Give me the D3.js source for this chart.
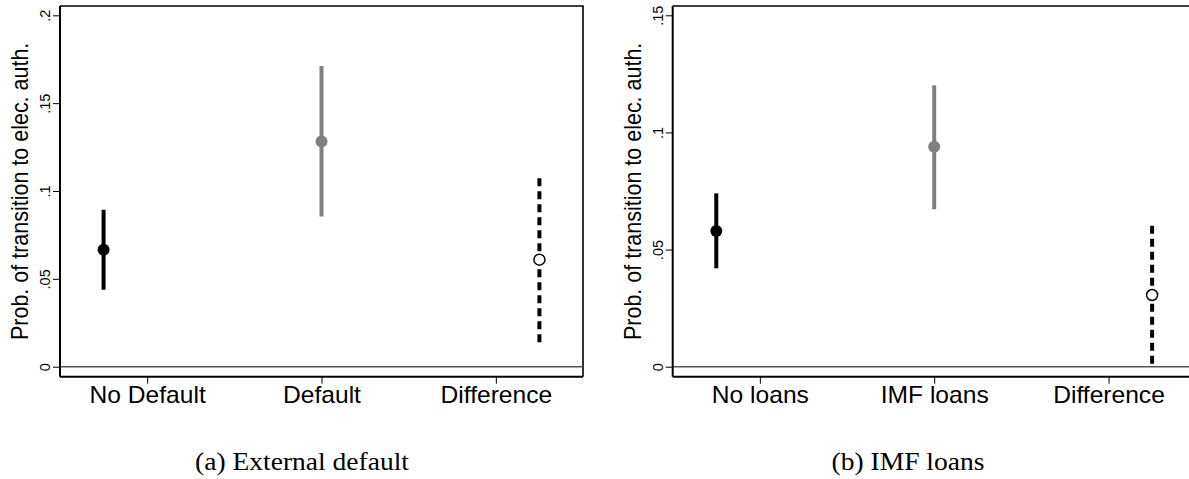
<!DOCTYPE html>
<html>
<head>
<meta charset="utf-8">
<script src="https://cdn.jsdelivr.net/npm/d3@7"></script>
<style>
  html, body { margin: 0; padding: 0; background: #fff; }
  svg { display: block; }
  .sans { font-family: "Liberation Sans", Arial, Helvetica, sans-serif; }
  .serif { font-family: "Liberation Serif", "Times New Roman", serif; }
</style>
</head>
<body>
<svg id="chart" width="1189" height="479"></svg>
<script>
// ---- Panel (a): external default ----
const categoriesA = ["No Default", "Default", "Difference"];
const estimateA   = [0.0666, 0.1282, 0.0609];
const lowerA      = [0.0438, 0.0855, 0.0121];
const upperA      = [0.0893, 0.1712, 0.1073];
const tickValuesA = [0, 0.05, 0.1, 0.15, 0.2];
const tickLabelsA = ["0", ".05", ".1", ".15", ".2"];

// ---- Panel (b): IMF loans ----
const categoriesB = ["No loans", "IMF loans", "Difference"];
const estimateB   = [0.0579, 0.0939, 0.0306];
const lowerB      = [0.0420, 0.0672, 0.0005];
const upperB      = [0.0740, 0.1201, 0.0602];
const tickValuesB = [0, 0.05, 0.1, 0.15];
const tickLabelsB = ["0", ".05", ".1", ".15"];

// category tick positions and the (shifted) positions where estimates sit
const tickPositions = [1, 2, 3];
const markPositions = [0.75, 2, 3.25];

const yTitle = "Prob. of transition to elec. auth.";

// mark styling per category: base group, treated group, difference
const styles = [
  { color: "#000",    dash: null,  fill: "#000",    r: 6 },
  { color: "#808080", dash: null,  fill: "#808080", r: 6 },
  { color: "#000",    dash: "8,5", fill: "#fff",    r: 5.5 }
];

// the figure's lettering is set slightly wide
const WIDE = 1.07;
const CAPTION_WIDE = 1.08;

const svg = d3.select("#chart");

function drawPanel(cfg) {
  const { left, right, top, bottom, yMax, yMaxPx, yZeroPx } = cfg;
  const g = svg.append("g");

  const x = d3.scaleLinear().domain([0.5, 3.5]).range([left, right]);
  const y = d3.scaleLinear().domain([0, yMax]).range([yZeroPx, yMaxPx]);

  // plot region outline (top and right edges)
  g.append("path")
    .attr("d", `M${left},${top}H${right}V${bottom}`)
    .attr("fill", "none").attr("stroke", "#000").attr("stroke-width", 1.6);

  // reference line at zero
  g.append("line")
    .attr("x1", left).attr("x2", right)
    .attr("y1", y(0)).attr("y2", y(0))
    .attr("stroke", "#555").attr("stroke-width", 1.4);

  // y axis
  const yAxis = d3.axisLeft(y)
    .tickValues(cfg.tickValues)
    .tickFormat((d, i) => cfg.tickLabels[i])
    .tickSize(7).tickSizeOuter(0);
  const ya = g.append("g").attr("transform", `translate(${left},0)`).call(yAxis);
  ya.attr("font-size", null).attr("font-family", null);
  ya.select(".domain").attr("d", `M0,${top}V${bottom}`).attr("stroke-width", 2);
  ya.selectAll(".tick line").attr("stroke-width", 1);
  ya.selectAll(".tick text")
    .attr("class", "sans")
    .attr("font-size", 14.5)
    .attr("fill", "#000")
    .attr("x", null).attr("dy", null)
    .attr("text-anchor", "middle")
    .attr("transform", `translate(-10,0) rotate(-90) scale(1,${WIDE})`);

  // x axis
  const xAxis = d3.axisBottom(x)
    .tickValues(tickPositions)
    .tickFormat((d, i) => cfg.categories[i])
    .tickSize(7).tickSizeOuter(0);
  const xa = g.append("g").attr("transform", `translate(0,${bottom})`).call(xAxis);
  xa.attr("font-size", null).attr("font-family", null);
  xa.select(".domain").attr("d", `M${left},0H${right}`).attr("stroke-width", 2);
  xa.selectAll(".tick line").attr("stroke-width", 1);
  xa.selectAll(".tick text")
    .attr("class", "sans")
    .attr("font-size", 23)
    .attr("fill", "#000")
    .attr("dy", null)
    .attr("y", null)
    .attr("transform", `translate(0,26) scale(${WIDE},1)`);

  // y axis title
  g.append("text")
    .attr("class", "sans")
    .attr("font-size", 21.5)
    .attr("text-anchor", "middle")
    .attr("transform", `translate(${left - 32},${(top + bottom) / 2}) rotate(-90) scale(1,${WIDE})`)
    .text(yTitle);

  // confidence intervals
  const idx = d3.range(cfg.categories.length);
  g.selectAll("line.ci").data(idx).join("line")
    .attr("class", "ci")
    .attr("x1", i => x(markPositions[i])).attr("x2", i => x(markPositions[i]))
    .attr("y1", i => y(cfg.upper[i])).attr("y2", i => y(cfg.lower[i]))
    .attr("stroke", i => styles[i].color)
    .attr("stroke-width", 4)
    .attr("stroke-dasharray", i => styles[i].dash);

  // point estimates
  g.selectAll("circle.pt").data(idx).join("circle")
    .attr("class", "pt")
    .attr("cx", i => x(markPositions[i]))
    .attr("cy", i => y(cfg.estimate[i]))
    .attr("r", i => styles[i].r)
    .attr("fill", i => styles[i].fill)
    .attr("stroke", i => styles[i].color)
    .attr("stroke-width", i => (i === 2 ? 1.5 : 0));

  // sub-caption
  svg.append("text")
    .attr("class", "serif")
    .attr("font-size", 25.5)
    .attr("text-anchor", "middle")
    .attr("transform", `translate(${cfg.captionX},470) scale(${CAPTION_WIDE},1)`)
    .text(cfg.caption);
}

drawPanel({
  left: 60, right: 583, top: 6, bottom: 376.7,
  yMax: 0.2, yMaxPx: 15.3, yZeroPx: 366.7,
  tickValues: tickValuesA, tickLabels: tickLabelsA,
  categories: categoriesA,
  estimate: estimateA, lower: lowerA, upper: upperA,
  caption: "(a) External default", captionX: 302
});

drawPanel({
  left: 672.7, right: 1195.7, top: 6, bottom: 376.7,
  yMax: 0.15, yMaxPx: 15.3, yZeroPx: 366.7,
  tickValues: tickValuesB, tickLabels: tickLabelsB,
  categories: categoriesB,
  estimate: estimateB, lower: lowerB, upper: upperB,
  caption: "(b) IMF loans", captionX: 908
});
</script>
</body>
</html>
